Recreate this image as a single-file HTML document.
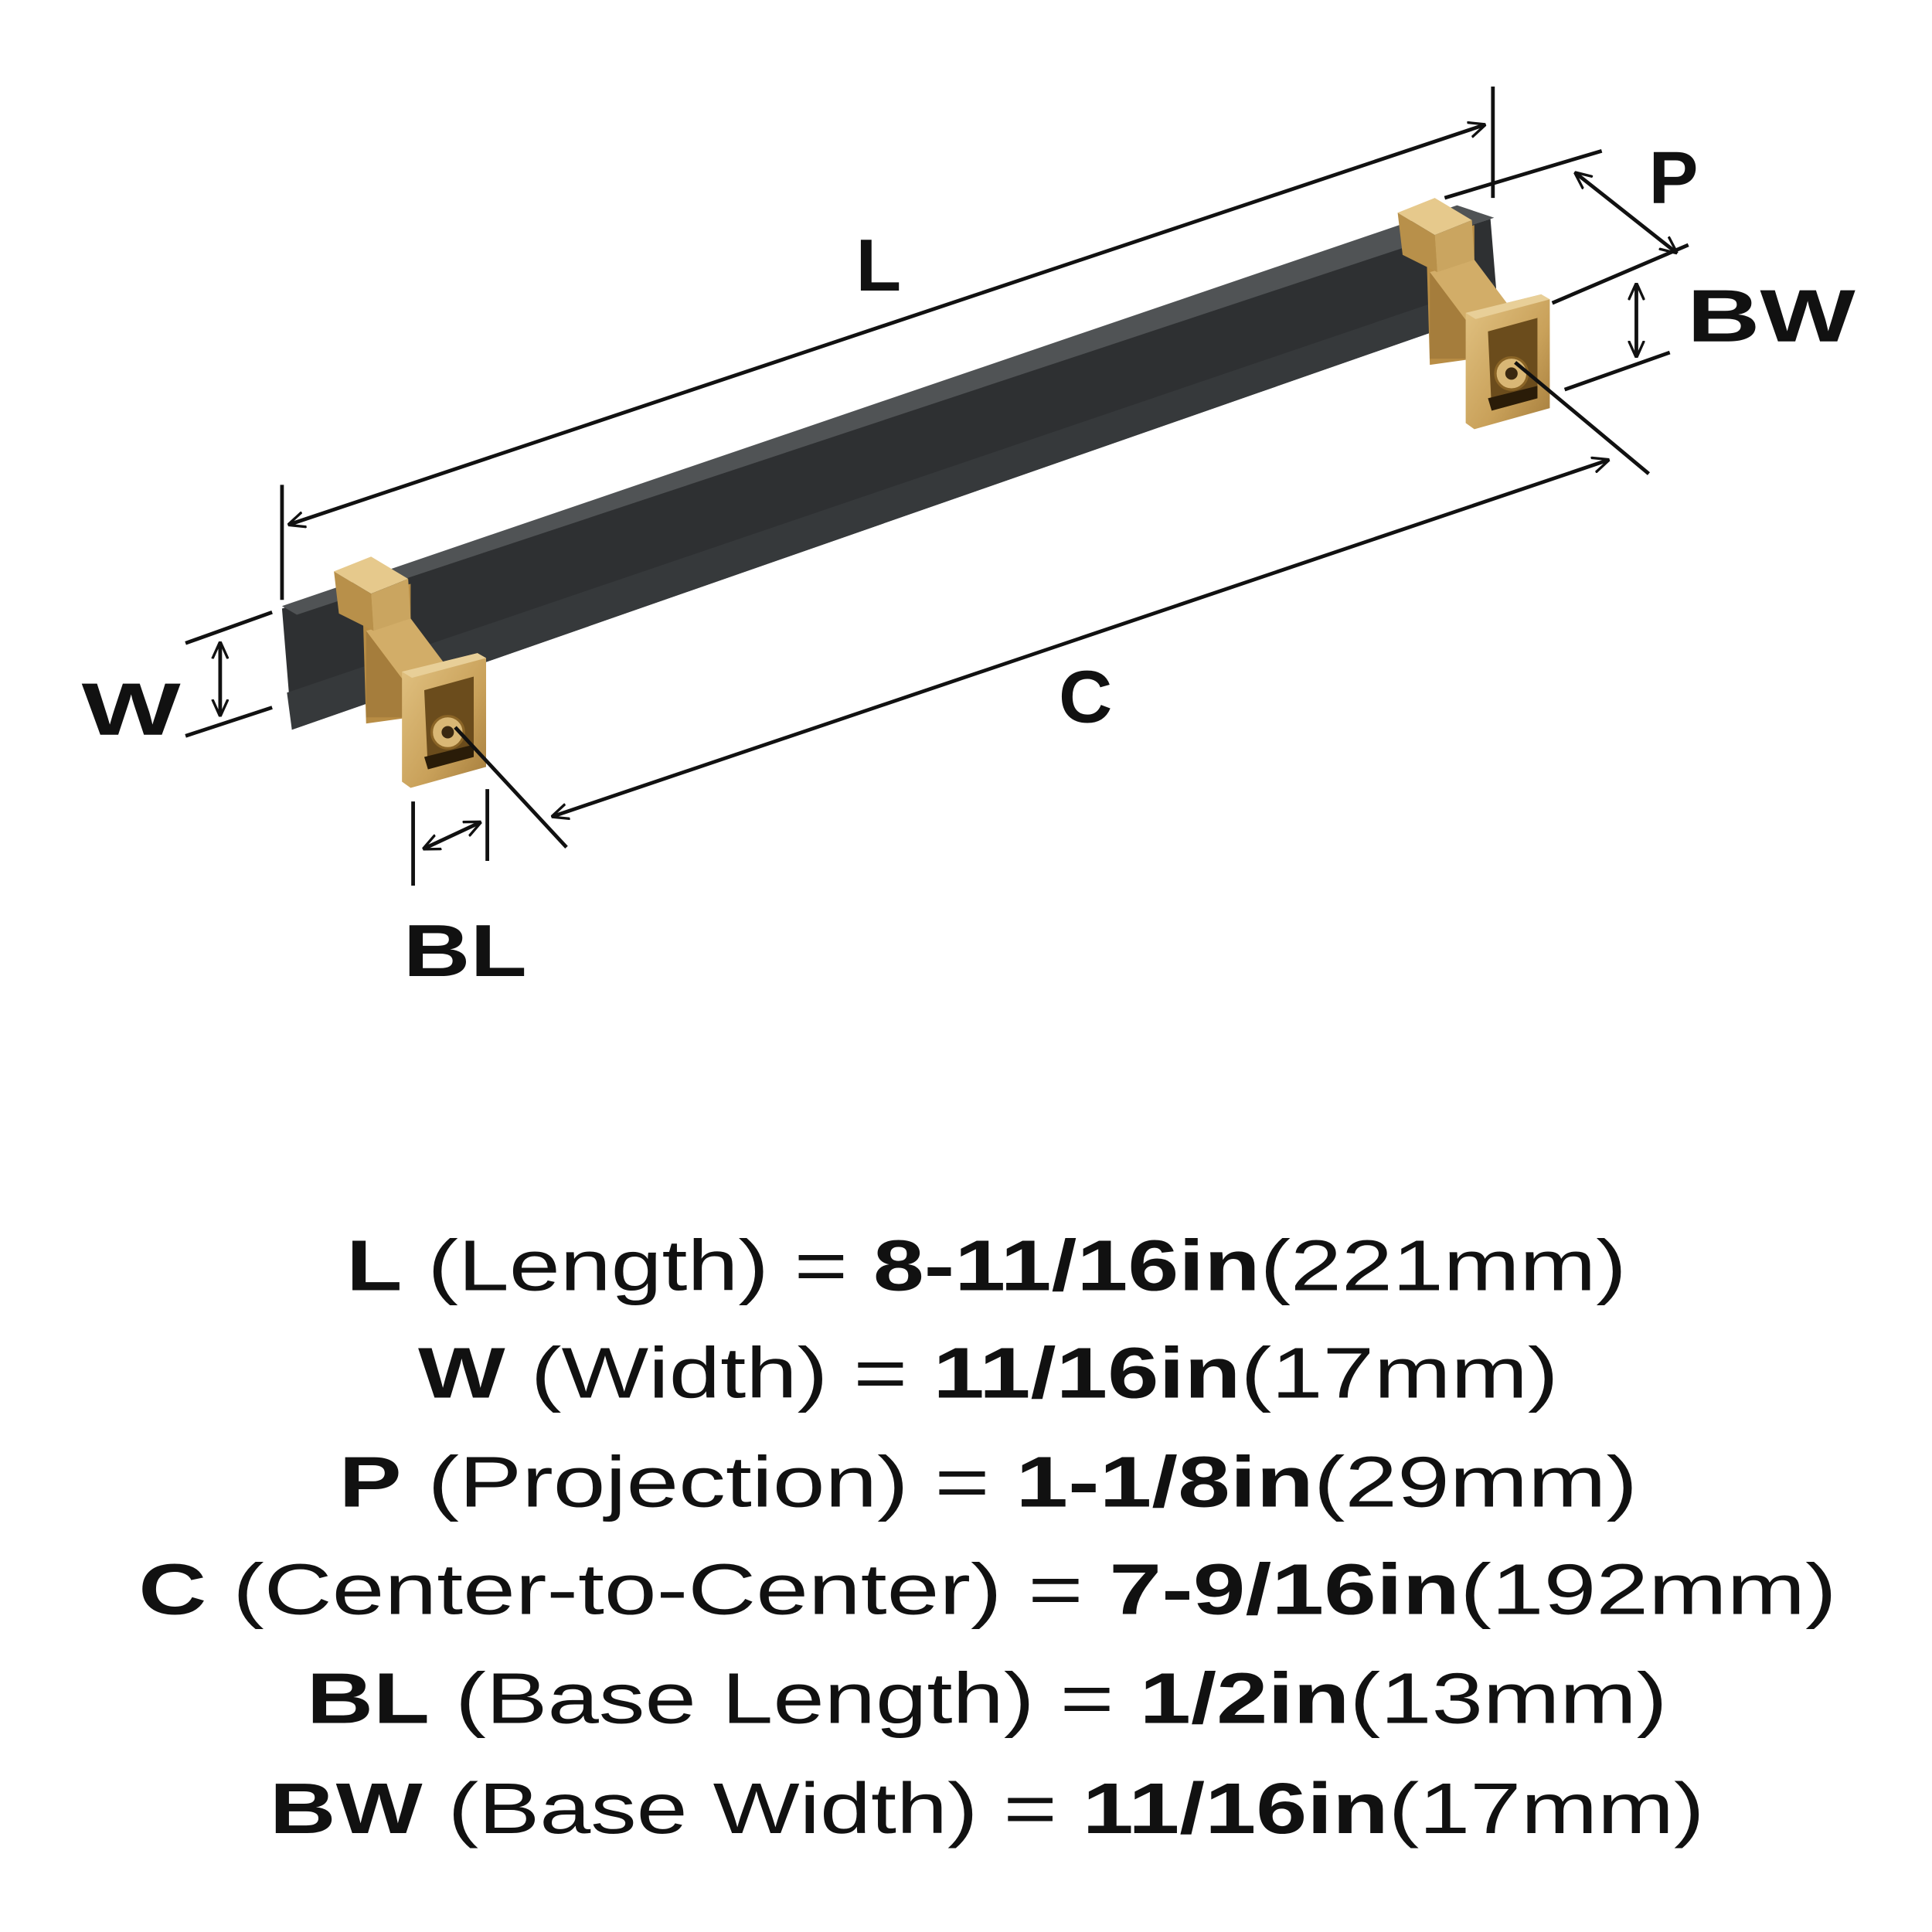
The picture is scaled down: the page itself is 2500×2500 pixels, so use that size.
<!DOCTYPE html>
<html><head><meta charset="utf-8"><style>
html,body{margin:0;padding:0;background:#fff;}
svg{display:block;}
text{font-family:"Liberation Sans",sans-serif;fill:#111;}
</style></head><body>
<svg width="2500" height="2500" viewBox="0 0 1562 1562" xmlns="http://www.w3.org/2000/svg">
<defs>
<marker id="a" viewBox="0 0 10 10" refX="9" refY="5" markerWidth="14" markerHeight="14" orient="auto-start-reverse" markerUnits="userSpaceOnUse">
<path d="M0,0.5 L10,5 L0,9.5" fill="none" stroke="#111" stroke-width="1.5"/>
</marker>
<linearGradient id="br" x1="0" y1="0" x2="1" y2="1">
<stop offset="0" stop-color="#e2c383"/><stop offset="0.6" stop-color="#c9a15a"/><stop offset="1" stop-color="#a57d3c"/>
</linearGradient>
<g id="brk">
<!-- post -->
<polygon points="293,482 332,472 332,580 296,585" fill="#b88d45"/>
<!-- shoulder -->
<polygon points="296,510 332,500 362,540 326,550" fill="#d2ad68"/>
<polygon points="296,510 326,550 326,580 296,580" fill="#a57d3c"/>
<!-- top block -->
<polygon points="270,462 300,450 330,468 300,480" fill="#e6c98c"/>
<polygon points="300,480 330,468 332,500 302,510" fill="#caa560"/>
<polygon points="270,462 300,480 302,510 274,496" fill="#b8904a"/>
<!-- base plate -->
<polygon points="325,543 386,528 393,532 393,620 332,637 325,632" fill="url(#br)"/>
<polygon points="325,543 386,528 393,532 333,548" fill="#e8cf98"/>
<polygon points="343,558 383,547 383,612 346,622" fill="#6b4c1c"/>
<polygon points="343,612 383,602 383,612 346,622" fill="#2a1c08"/>
<circle cx="362" cy="592" r="13" fill="#d9b775" stroke="#8a6426" stroke-width="2"/>
<circle cx="362" cy="592" r="5" fill="#3a2810"/>
</g>
</defs>
<rect width="1562" height="1562" fill="#fff"/>
<!-- bar -->
<polygon points="228,492 1205,177 1211,250 236,590" fill="#2e3032"/>
<polygon points="232,560 1208,228 1211,250 236,590" fill="#36393b"/>
<polygon points="228,490 1178,166 1208,176 240,497" fill="#505355"/>
<use href="#brk"/>
<use href="#brk" transform="translate(860,-290)"/>
<g stroke="#111" stroke-width="3" fill="none">
<!-- L -->
<line x1="228" y1="392" x2="228" y2="485"/>
<line x1="1207" y1="70" x2="1207" y2="160"/>
<line x1="234" y1="424" x2="1200" y2="101" marker-start="url(#a)" marker-end="url(#a)"/>
<!-- C -->
<line x1="368" y1="588" x2="458" y2="685"/>
<line x1="1225" y1="293" x2="1333" y2="383"/>
<line x1="447" y1="660" x2="1300" y2="372" marker-start="url(#a)" marker-end="url(#a)"/>
<!-- P -->
<line x1="1168" y1="160" x2="1295" y2="122"/>
<line x1="1274" y1="140" x2="1355" y2="204" marker-start="url(#a)" marker-end="url(#a)"/>
<!-- BW -->
<line x1="1255" y1="245" x2="1365" y2="198"/>
<line x1="1265" y1="315" x2="1350" y2="285"/>
<line x1="1323" y1="230" x2="1323" y2="288" marker-start="url(#a)" marker-end="url(#a)"/>
<!-- W -->
<line x1="150" y1="520" x2="220" y2="495"/>
<line x1="150" y1="595" x2="220" y2="572"/>
<line x1="178" y1="520" x2="178" y2="578" marker-start="url(#a)" marker-end="url(#a)"/>
<!-- BL -->
<line x1="334" y1="648" x2="334" y2="716"/>
<line x1="394" y1="638" x2="394" y2="696"/>
<line x1="343" y1="686" x2="388" y2="665" marker-start="url(#a)" marker-end="url(#a)"/>
</g>
<g font-weight="bold" font-size="60">
<text x="692" y="235">L</text>
<text x="1333" y="164">P</text>
<text x="1364" y="276" textLength="136" lengthAdjust="spacingAndGlyphs">BW</text>
<text x="66" y="594" textLength="80" lengthAdjust="spacingAndGlyphs">W</text>
<text x="856" y="584">C</text>
<text x="326" y="789" textLength="100" lengthAdjust="spacingAndGlyphs">BL</text>
</g>
<g font-size="58">
<text x="280" y="1043" textLength="1035" lengthAdjust="spacingAndGlyphs"><tspan font-weight="bold">L</tspan> (Length) = <tspan font-weight="bold">8-11/16in</tspan>(221mm)</text>
<text x="338" y="1130" textLength="922" lengthAdjust="spacingAndGlyphs"><tspan font-weight="bold">W</tspan> (Width) = <tspan font-weight="bold">11/16in</tspan>(17mm)</text>
<text x="274" y="1218" textLength="1050" lengthAdjust="spacingAndGlyphs"><tspan font-weight="bold">P</tspan> (Projection) = <tspan font-weight="bold">1-1/8in</tspan>(29mm)</text>
<text x="112" y="1305" textLength="1373" lengthAdjust="spacingAndGlyphs"><tspan font-weight="bold">C</tspan> (Center-to-Center) = <tspan font-weight="bold">7-9/16in</tspan>(192mm)</text>
<text x="248" y="1393" textLength="1100" lengthAdjust="spacingAndGlyphs"><tspan font-weight="bold">BL</tspan> (Base Length) = <tspan font-weight="bold">1/2in</tspan>(13mm)</text>
<text x="218" y="1482" textLength="1160" lengthAdjust="spacingAndGlyphs"><tspan font-weight="bold">BW</tspan> (Base Width) = <tspan font-weight="bold">11/16in</tspan>(17mm)</text>
</g>
</svg>
</body></html>
